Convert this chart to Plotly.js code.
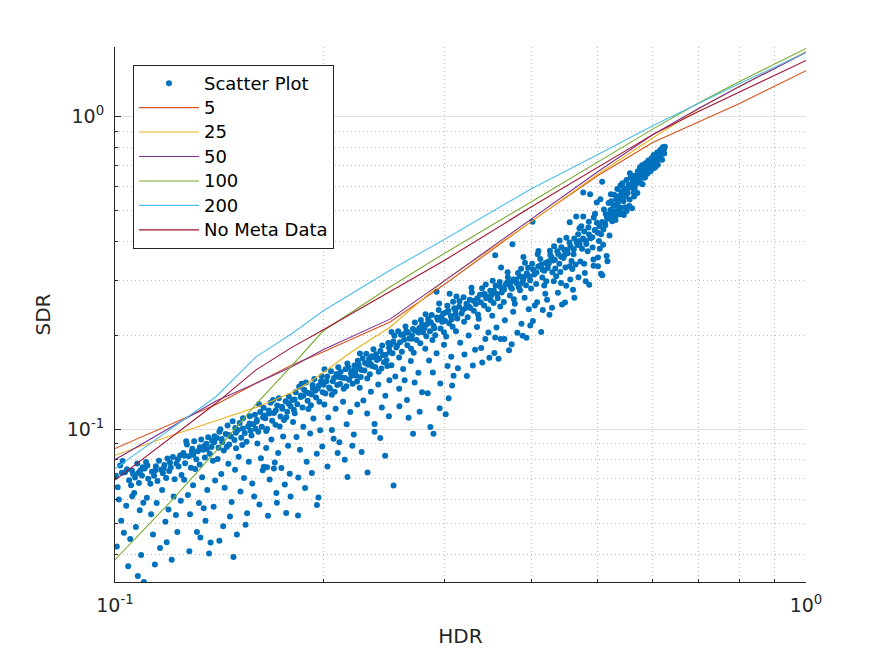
<!DOCTYPE html>
<html>
<head>
<meta charset="utf-8">
<script src="https://cdn.plot.ly/plotly-3.0.1.min.js"></script>
<style>html,body{margin:0;padding:0;background:#fff;}#chart{width:891px;height:656px;}</style>
</head>
<body>
<div id="chart"></div>
<script>
// ---- Data (HDR, SDR pairs) ----
var scatterPoints = [
[0.1003,0.0712],[0.1017,0.0768],[0.1009,0.0655],[0.1034,0.0731],[0.1026,0.0794],[0.1048,0.0689],[0.1041,0.0747],[0.1062,0.0722],[0.1055,0.0664],[0.1077,0.0779],[0.1069,0.0703],[0.1088,0.0741],[0.1083,0.0676],[0.1097,0.0758],[0.1094,0.0714],
[0.1013,0.0598],[0.1021,0.0512],[0.1038,0.0571],[0.1052,0.0447],[0.1059,0.0613],[0.1072,0.0489],[0.1086,0.0553],[0.1091,0.0398],[0.1006,0.0423],[0.1045,0.0366],[0.1066,0.0627],[0.1079,0.0341],[0.1030,0.0468],[0.1099,0.0584],
[0.1104,0.0751],[0.1117,0.0697],[0.1109,0.0788],[0.1131,0.0733],[0.1125,0.0672],[0.1146,0.0764],[0.1139,0.0712],[0.1158,0.0796],[0.1166,0.0745],[0.1152,0.0685],[0.1179,0.0771],[0.1173,0.0726],[0.1191,0.0809],[0.1186,0.0701],[0.1204,0.0757],[0.1213,0.0818],[0.1198,0.0738],[0.1227,0.0779],[0.1220,0.0694],[0.1242,0.0827],[0.1236,0.0762],[0.1248,0.0716],
[0.1112,0.0606],[0.1128,0.0537],[0.1135,0.0462],[0.1149,0.0583],[0.1162,0.0419],[0.1170,0.0641],[0.1183,0.0508],[0.1195,0.0556],[0.1208,0.0384],[0.1216,0.0612],[0.1231,0.0471],[0.1245,0.0593],[0.1101,0.0326],[0.1142,0.0371],[0.1188,0.0437],[0.1225,0.0534],
[0.1256,0.0842],[0.1263,0.0781],[0.1271,0.0897],[0.1279,0.0823],[0.1288,0.0756],[0.1294,0.0869],[0.1302,0.0918],[0.1311,0.0805],[0.1318,0.0853],[0.1326,0.0774],[0.1333,0.0931],[0.1341,0.0862],[0.1349,0.0815],[0.1356,0.0902],[0.1364,0.0946],[0.1371,0.0838],[0.1379,0.0880],[0.1386,0.0796],[0.1393,0.0953],[0.1268,0.0918],[0.1306,0.0749],[0.1345,0.0885],[0.1382,0.0921],[0.1298,0.0831],
[0.1259,0.0692],[0.1275,0.0618],[0.1284,0.0537],[0.1297,0.0664],[0.1314,0.0471],[0.1323,0.0583],[0.1337,0.0705],[0.1352,0.0512],[0.1360,0.0641],[0.1375,0.0436],[0.1389,0.0567],[0.1396,0.0688],[0.1281,0.0409],[0.1329,0.0452],[0.1368,0.0402],[0.1344,0.0561],
[0.1404,0.0941],[0.1412,0.0876],[0.1421,0.1003],[0.1430,0.0912],[0.1437,0.0858],[0.1446,0.0968],[0.1455,0.1032],[0.1463,0.0897],[0.1471,0.0951],[0.1480,0.1064],[0.1489,0.0927],[0.1497,0.0872],[0.1506,0.0998],[0.1515,0.1051],[0.1523,0.0943],[0.1532,0.1087],[0.1541,0.0976],[0.1550,0.0915],[0.1558,0.1024],[0.1567,0.1103],[0.1576,0.0958],[0.1585,0.1041],[0.1594,0.1116],[0.1416,0.0985],[0.1452,0.0882],[0.1493,0.1012],[0.1528,0.0893],[0.1571,0.0992],[0.1598,0.1007],
[0.1408,0.0806],[0.1425,0.0721],[0.1441,0.0652],[0.1459,0.0778],[0.1475,0.0587],[0.1492,0.0745],[0.1510,0.0819],[0.1519,0.0634],[0.1537,0.0701],[0.1553,0.0541],[0.1562,0.0789],[0.1580,0.0673],[0.1590,0.0612],[0.1434,0.0491],[0.1467,0.0528],[0.1501,0.0462],[0.1545,0.0497],[0.1484,0.0392],[0.1416,0.0442],
[0.1603,0.1062],[0.1612,0.0984],[0.1622,0.1138],[0.1631,0.1021],[0.1641,0.1175],[0.1650,0.1087],[0.1660,0.1004],[0.1669,0.1152],[0.1679,0.1219],[0.1688,0.1068],[0.1698,0.1131],[0.1707,0.1037],[0.1717,0.1195],[0.1726,0.1259],[0.1736,0.1102],[0.1746,0.1167],[0.1756,0.1073],[0.1766,0.1232],[0.1775,0.1141],[0.1785,0.1276],[0.1795,0.1189],[0.1616,0.1206],[0.1655,0.0991],[0.1693,0.1243],[0.1731,0.1024],[0.1770,0.1096],[0.1645,0.1110],
[0.1607,0.0903],[0.1626,0.0811],[0.1636,0.0742],[0.1655,0.0874],[0.1674,0.0693],[0.1684,0.0931],[0.1703,0.0786],[0.1712,0.0628],[0.1722,0.0842],[0.1741,0.0754],[0.1751,0.0951],[0.1761,0.0668],[0.1780,0.0889],[0.1790,0.0723],[0.1618,0.0577],[0.1665,0.0531],[0.1715,0.0584],[0.1769,0.0542],[0.1795,0.0612],[0.1642,0.0761],[0.1698,0.0752],[0.1660,0.0758],
[0.1805,0.1243],[0.1815,0.1157],[0.1826,0.1318],[0.1836,0.1206],[0.1847,0.1372],[0.1857,0.1271],[0.1868,0.1178],[0.1878,0.1341],[0.1889,0.1414],[0.1900,0.1236],[0.1910,0.1308],[0.1921,0.1197],[0.1932,0.1388],[0.1943,0.1452],[0.1954,0.1267],[0.1965,0.1352],[0.1976,0.1229],[0.1987,0.1428],[0.1998,0.1316],[0.1820,0.1129],[0.1862,0.1402],[0.1905,0.1165],[0.1948,0.1331],[0.1992,0.1481],[0.1873,0.1284],[0.1926,0.1295],
[0.1810,0.1058],[0.1831,0.0947],[0.1852,0.0862],[0.1873,0.1021],[0.1894,0.0789],[0.1916,0.0973],[0.1937,0.1085],[0.1959,0.0838],[0.1981,0.0996],[0.1842,0.0703],[0.1884,0.0651],[0.1927,0.0727],[0.1970,0.0607],[0.1960,0.0574],[0.1995,0.0884],[0.1840,0.0532],
[0.2004,0.1392],[0.2016,0.1305],[0.2029,0.1479],[0.2041,0.1364],[0.2054,0.1538],[0.2066,0.1427],[0.2079,0.1321],[0.2092,0.1505],[0.2104,0.1582],[0.2117,0.1398],[0.2130,0.1466],[0.2143,0.1351],[0.2156,0.1561],[0.2169,0.1627],[0.2182,0.1443],[0.2195,0.1519],[0.2208,0.1402],[0.2221,0.1603],[0.2234,0.1487],[0.2246,0.1659],[0.2010,0.1559],[0.2060,0.1293],[0.2110,0.1472],[0.2162,0.1376],[0.2214,0.1543],[0.2240,0.1424],
[0.2009,0.1203],[0.2035,0.1094],[0.2060,0.0998],[0.2086,0.1167],[0.2112,0.0912],[0.2138,0.1228],[0.2164,0.1041],[0.2190,0.1139],[0.2216,0.0965],[0.2242,0.1204],[0.2030,0.0763],[0.2100,0.0842],[0.2150,0.0801],[0.2170,0.0706],[0.2205,0.0889],[0.2072,0.0935],
[0.2255,0.1581],[0.2268,0.1473],[0.2282,0.1687],[0.2296,0.1545],[0.2310,0.1749],[0.2324,0.1612],[0.2338,0.1503],[0.2352,0.1716],[0.2366,0.1807],[0.2380,0.1587],[0.2394,0.1668],[0.2408,0.1531],[0.2422,0.1783],[0.2436,0.1859],[0.2450,0.1642],[0.2464,0.1735],[0.2478,0.1597],[0.2492,0.1826],[0.2262,0.1752],[0.2318,0.1456],[0.2374,0.1702],[0.2430,0.1568],[0.2486,0.1893],[0.2345,0.1620],
[0.2260,0.1361],[0.2288,0.1240],[0.2317,0.1127],[0.2346,0.1322],[0.2375,0.1043],[0.2404,0.1395],[0.2433,0.1178],[0.2462,0.1284],[0.2491,0.1104],[0.2320,0.0730],[0.2375,0.0985],[0.2460,0.0826],[0.2420,0.0941],[0.2275,0.0848],[0.2495,0.1439],
[0.2506,0.1872],[0.2521,0.1754],[0.2537,0.1996],[0.2553,0.1829],[0.2569,0.2061],[0.2585,0.1903],[0.2601,0.1774],[0.2617,0.2018],[0.2633,0.2135],[0.2649,0.1862],[0.2666,0.1957],[0.2682,0.1812],[0.2699,0.2096],[0.2716,0.2201],[0.2732,0.1934],[0.2749,0.2043],[0.2766,0.1887],[0.2783,0.2163],[0.2513,0.2052],[0.2577,0.1702],[0.2641,0.2063],[0.2706,0.1761],[0.2771,0.2242],[0.2690,0.1998],
[0.2512,0.1607],[0.2545,0.1478],[0.2578,0.1352],[0.2612,0.1562],[0.2646,0.1244],[0.2680,0.1658],[0.2714,0.1416],[0.2748,0.1521],[0.2782,0.1318],[0.2530,0.0663],[0.2580,0.1187],[0.2660,0.1092],[0.2700,0.0970],[0.2760,0.1141],[0.2625,0.1439],
[0.2806,0.2112],[0.2822,0.1987],[0.2839,0.2258],[0.2856,0.2062],[0.2873,0.2325],[0.2890,0.2147],[0.2907,0.2003],[0.2924,0.2284],[0.2941,0.2410],[0.2958,0.2103],[0.2975,0.2212],[0.2993,0.2048],[0.3010,0.2368],[0.3027,0.2487],[0.3045,0.2186],[0.3062,0.2309],[0.3080,0.2131],[0.3097,0.2441],[0.2815,0.2339],[0.2880,0.1935],[0.2945,0.2529],[0.3015,0.1986],[0.3085,0.2563],[0.2920,0.2760],[0.3050,0.2720],[0.2985,0.2345],
[0.2812,0.1812],[0.2848,0.1663],[0.2884,0.1523],[0.2920,0.1754],[0.2956,0.1405],[0.2993,0.1868],[0.3029,0.1597],[0.3066,0.1709],[0.3090,0.1487],[0.2860,0.1020],[0.2890,0.0970],[0.3010,0.1120],[0.2950,0.1170],[0.2835,0.1307],[0.3040,0.1260],[0.3075,0.1385],
[0.3108,0.2402],[0.3129,0.2266],[0.3151,0.2572],[0.3173,0.2351],[0.3195,0.2648],[0.3217,0.2449],[0.3239,0.2285],[0.3261,0.2601],[0.3284,0.2745],[0.3306,0.2398],[0.3329,0.2521],[0.3352,0.2334],[0.3375,0.2697],[0.3398,0.2832],[0.3421,0.2491],[0.3445,0.2629],[0.3468,0.2427],[0.3492,0.2781],[0.3120,0.2665],[0.3200,0.2213],[0.3280,0.2843],[0.3360,0.2260],[0.3440,0.2910],[0.3250,0.2478],[0.3410,0.2702],
[0.3115,0.2063],[0.3159,0.1894],[0.3204,0.1739],[0.3249,0.1998],[0.3295,0.1603],[0.3341,0.2128],[0.3388,0.1822],[0.3435,0.1947],[0.3482,0.1697],[0.3135,0.1571],[0.3230,0.1485],[0.3320,0.1800],[0.3400,0.1640],[0.3470,0.2045],
[0.3508,0.2693],[0.3531,0.2537],[0.3555,0.2883],[0.3580,0.2628],[0.3604,0.2966],[0.3628,0.2741],[0.3653,0.2557],[0.3678,0.2908],[0.3703,0.3071],[0.3728,0.2683],[0.3753,0.2820],[0.3778,0.2611],[0.3804,0.3016],[0.3830,0.3168],[0.3856,0.2787],[0.3882,0.2941],[0.3520,0.2991],[0.3610,0.2473],[0.3700,0.3182],[0.3790,0.2525],[0.3870,0.3267],[0.3550,0.3610],[0.3760,0.3910],[0.3620,0.3300],[0.3740,0.2960],[0.3840,0.2850],
[0.3515,0.2312],[0.3565,0.2122],[0.3615,0.1947],[0.3666,0.2237],[0.3717,0.1795],[0.3769,0.2381],[0.3822,0.2039],[0.3875,0.2178],[0.3550,0.1970],[0.3660,0.1950],[0.3590,0.1686],[0.3750,0.1873],[0.3890,0.1995],[0.3540,0.1759],
[0.3908,0.3077],[0.3934,0.2896],[0.3961,0.3293],[0.3988,0.3002],[0.4015,0.3387],[0.4042,0.3131],[0.4069,0.2921],[0.4097,0.3322],[0.4125,0.3507],[0.4153,0.3064],[0.4181,0.3221],[0.4209,0.2982],[0.4238,0.3444],[0.4266,0.3617],[0.4295,0.3183],[0.3920,0.3415],[0.4000,0.2825],[0.4090,0.3633],[0.4180,0.2886],[0.4260,0.3731],[0.4020,0.4620],[0.3900,0.3560],[0.4100,0.3720],[0.4140,0.3364],[0.4230,0.3285],
[0.3915,0.2641],[0.3970,0.2424],[0.4025,0.2224],[0.4081,0.2555],[0.4138,0.2052],[0.4195,0.2720],[0.4253,0.2330],[0.3940,0.1965],[0.4050,0.2492],[0.4160,0.2410],[0.4220,0.2600],[0.4290,0.2450],[0.3990,0.2150],
[0.4308,0.3474],[0.4337,0.3271],[0.4366,0.3719],[0.4396,0.3390],[0.4426,0.3825],[0.4456,0.3536],[0.4486,0.3298],[0.4516,0.3752],[0.4547,0.3961],[0.4578,0.3460],[0.4609,0.3638],[0.4640,0.3368],[0.4671,0.3890],[0.4320,0.3856],[0.4410,0.3191],[0.4500,0.4103],[0.4590,0.3260],[0.4680,0.4213],[0.4550,0.4600],[0.4400,0.4020],[0.4650,0.4800],[0.4620,0.4085],[0.4470,0.3610],[0.4700,0.4400],
[0.4315,0.2982],[0.4375,0.2737],[0.4436,0.2511],[0.4497,0.2885],[0.4559,0.3021],[0.4622,0.2641],[0.4685,0.3070],[0.4480,0.2550],[0.4550,0.3330],[0.4600,0.2800],[0.4350,0.3090],[0.4420,0.2940],
[0.4708,0.4012],[0.4741,0.3786],[0.4775,0.4301],[0.4809,0.3923],[0.4843,0.4422],[0.4877,0.4091],[0.4911,0.3817],[0.4946,0.4339],[0.4981,0.4582],[0.5016,0.4004],[0.5051,0.4208],[0.5087,0.3897],[0.5123,0.4498],[0.5159,0.4723],[0.5195,0.4169],[0.4730,0.4466],[0.4830,0.3716],[0.4930,0.4765],[0.5030,0.3785],[0.5130,0.4890],[0.4760,0.5730],[0.4870,0.5650],[0.4980,0.5320],[0.5070,0.6200],[0.5040,0.5450],[0.4760,0.4800],[0.4850,0.4620],[0.5100,0.5050],[0.4950,0.4900],[0.5180,0.5300],[0.5090,0.4360],
[0.4715,0.3449],[0.4785,0.3166],[0.4856,0.2905],[0.4927,0.3337],[0.4999,0.3552],[0.5072,0.3112],[0.5146,0.3586],[0.4800,0.2980],[0.5050,0.3150],[0.5000,0.3330],[0.4775,0.3390],[0.5160,0.3450],[0.4925,0.3500],
[0.5208,0.4880],[0.5226,0.5370],[0.5243,0.4630],[0.5262,0.5190],[0.5279,0.5630],[0.5297,0.4990],[0.5315,0.5450],[0.5333,0.5880],[0.5351,0.5110],[0.5369,0.5580],[0.5388,0.4880],[0.5406,0.5760],[0.5424,0.6130],[0.5443,0.5370],[0.5462,0.5900],[0.5480,0.5560],[0.5499,0.6280],[0.5518,0.5690],[0.5537,0.6050],[0.5556,0.5440],[0.5575,0.6390],[0.5594,0.5960],[0.5614,0.6190],[0.5633,0.5740],[0.5653,0.6480],[0.5672,0.6080],[0.5692,0.6330],[0.5220,0.5650],[0.5300,0.4780],[0.5390,0.6030],[0.5470,0.5140],[0.5560,0.6600],[0.5640,0.5560],[0.5380,0.5130],[0.5600,0.5100],[0.5650,0.5900],
[0.5250,0.4700],[0.5350,0.4900],[0.5400,0.4950],[0.5500,0.5000],[0.5300,0.4680],[0.5450,0.4850],[0.5150,0.4800],[0.5700,0.5700],[0.5550,0.5180],
[0.5711,0.6690],[0.5731,0.6260],[0.5751,0.6890],[0.5771,0.6450],[0.5791,0.6990],[0.5811,0.6640],[0.5831,0.6380],[0.5852,0.7090],[0.5872,0.6780],[0.5893,0.6570],[0.5913,0.7250],[0.5934,0.6930],[0.5955,0.6690],[0.5976,0.7370],[0.5997,0.7060],[0.6018,0.6840],[0.6039,0.7510],[0.6060,0.7200],[0.6082,0.7410],[0.6103,0.7020],[0.6125,0.7660],[0.6146,0.7390],[0.6168,0.7570],[0.6190,0.7280],[0.6212,0.7810],[0.6234,0.7630],[0.6248,0.8010],[0.6205,0.7990],[0.6155,0.7820],[0.6090,0.7690],[0.6020,0.7540],[0.5950,0.7230],[0.5880,0.7110],[0.5800,0.6080],[0.5850,0.6400],[0.5950,0.6700],[0.6050,0.6900],[0.5760,0.6150],[0.6230,0.7900],[0.6180,0.7700],[0.6110,0.7300],[0.6060,0.7450],[0.5990,0.7300],[0.5920,0.6850],[0.5840,0.6850],[0.5770,0.6600],
[0.2023,0.1428],[0.2048,0.1351],[0.2075,0.1462],[0.2097,0.1390],[0.2121,0.1527],[0.2152,0.1463],[0.2177,0.1580],[0.2199,0.1488],[0.2228,0.1541],[0.2251,0.1619],[0.2273,0.1552],[0.2301,0.1634],[0.2332,0.1683],[0.2356,0.1598],[0.2387,0.1741],[0.2411,0.1688],[0.2443,0.1731],[0.2471,0.1665],[0.2498,0.1771],
[0.2528,0.1912],[0.2559,0.1853],[0.2593,0.2012],[0.2621,0.1939],[0.2655,0.2042],[0.2687,0.1951],[0.2719,0.2069],[0.2757,0.2113],[0.2791,0.2047],[0.2829,0.2174],[0.2864,0.2203],[0.2898,0.2109],[0.2932,0.2246],[0.2968,0.2296],[0.3003,0.2227],
[0.3036,0.2398],[0.3071,0.2254],[0.3112,0.2336],[0.3148,0.2471],[0.3187,0.2412],[0.3226,0.2527],[0.3268,0.2446],[0.3302,0.2583],[0.3345,0.2632],[0.3384,0.2551],[0.3427,0.2714],[0.3463,0.2658],[0.3497,0.2589],
[0.3534,0.2781],[0.3572,0.2712],[0.3613,0.2855],[0.3656,0.2806],[0.3692,0.2947],[0.3735,0.2862],[0.3772,0.3016],[0.3815,0.2933],[0.3858,0.3088],[0.3897,0.3012],[0.3944,0.3159],[0.3983,0.3087],[0.4027,0.3251],[0.4073,0.3178],[0.4112,0.3321],[0.4158,0.3242],[0.4197,0.3406],
[0.4243,0.3393],[0.4284,0.3554],[0.4331,0.3492],[0.4379,0.3641],[0.4422,0.3566],[0.4467,0.3758],[0.4519,0.3661],[0.4561,0.3854],[0.4612,0.3771],[0.4658,0.3962],[0.4704,0.3891],[0.4757,0.4078],[0.4802,0.4012],[0.4853,0.4203],[0.4906,0.4118],[0.4951,0.4342],[0.4997,0.4255],
[0.5023,0.4478],[0.5069,0.4612],[0.5118,0.4559],[0.5163,0.4762],[0.5212,0.5032],[0.5253,0.4921],[0.5298,0.5216],[0.5341,0.5297],[0.5384,0.5452],[0.5427,0.5598],[0.5468,0.5712],[0.5512,0.5821],[0.5553,0.5963],[0.5597,0.6072],[0.5641,0.6223],[0.5683,0.6351],
[0.5721,0.6548],[0.5762,0.6623],[0.5803,0.6812],[0.5846,0.6911],[0.5889,0.7027],[0.5928,0.7112],[0.5969,0.7226],[0.6011,0.7331],[0.6052,0.7392],[0.6093,0.7537],[0.6136,0.7612],[0.6178,0.7718],[0.6221,0.7842],
[0.1023,0.0728],[0.1058,0.0741],[0.1081,0.0727],[0.1114,0.0768],[0.1143,0.0741],[0.1176,0.0752],[0.1201,0.0785],[0.1233,0.0804],[0.1261,0.0826],[0.1292,0.0851],[0.1327,0.0879],[0.1358,0.0867],[0.1392,0.0912],[0.1427,0.0934],[0.1461,0.0962],[0.1496,0.0978],[0.1531,0.1008],[0.1566,0.1046],[0.1604,0.1073],[0.1638,0.1095],[0.1672,0.1127],[0.1709,0.1151],[0.1745,0.1183],[0.1783,0.1213],[0.1819,0.1248],[0.1858,0.1286],[0.1894,0.1315],[0.1934,0.1353],[0.1971,0.1382]
];

var curveX = [0.1, 0.12, 0.14, 0.16, 0.18, 0.2, 0.25, 0.3, 0.4, 0.5, 0.6, 0.7, 0.8, 1.0];
var curveX25 = [0.1, 0.12, 0.14, 0.16, 0.17, 0.18, 0.19, 0.2, 0.22, 0.25, 0.3, 0.4, 0.5, 0.6, 0.7, 0.8, 1.0];
var sdr5   = [0.0870, 0.1039, 0.1204, 0.1406, 0.1607, 0.1772, 0.2207, 0.2915, 0.4622, 0.6488, 0.8265, 0.9640, 1.100, 1.403];
var sdr25  = [0.0828, 0.0955, 0.1067, 0.1178, 0.1243, 0.1313, 0.1407, 0.1520, 0.1774, 0.2125, 0.2999, 0.4613, 0.6560, 0.8547, 1.060, 1.248, 1.617];
var sdr50  = [0.0802, 0.1015, 0.1234, 0.1408, 0.1586, 0.1801, 0.2255, 0.2993, 0.4717, 0.6681, 0.8757, 1.064, 1.246, 1.605];
var sdr100 = [0.0384, 0.0585, 0.0854, 0.1207, 0.1595, 0.2066, 0.2858, 0.3664, 0.5338, 0.7187, 0.9125, 1.108, 1.293, 1.653];
var sdr200 = [0.0751, 0.1000, 0.1274, 0.1708, 0.2021, 0.2393, 0.3232, 0.4058, 0.5876, 0.7568, 0.9360, 1.104, 1.274, 1.605];
var sdrNoMeta = [0.0690, 0.0938, 0.1214, 0.1553, 0.1829, 0.2082, 0.2767, 0.3478, 0.5143, 0.6895, 0.8764, 1.041, 1.199, 1.513];

var seriesNames = ['Scatter Plot', '5', '25', '50', '100', '200', 'No Meta Data'];
var xTickVals = [0.1, 1];
var xTickText = ['10<sup>-1</sup>', '10<sup>0</sup>'];
var yTickVals = [0.1, 1];
var yTickText = ['10<sup>-1</sup>', '10<sup>0</sup>'];
var xMinorVals = [0.2, 0.3, 0.4, 0.5, 0.6, 0.7, 0.8, 0.9];
var yMinorVals = [0.04, 0.05, 0.06, 0.07, 0.08, 0.09, 0.2, 0.3, 0.4, 0.5, 0.6, 0.7, 0.8, 0.9];

// ---- Traces ----
var font = 'DejaVu Sans, sans-serif';
var txt = '#262626';
var lineColors = ['#D95319', '#EDB120', '#7E2F8E', '#77AC30', '#4DBEEE', '#A2142F'];
var lineYs = [sdr5, sdr25, sdr50, sdr100, sdr200, sdrNoMeta];
var lineXs = [curveX, curveX25, curveX, curveX, curveX, curveX];

function legendLabel(s) { return '<span style="font-size:18px">' + s + '</span>'; }

var traces = [{
  type: 'scatter', mode: 'markers', name: legendLabel(seriesNames[0]),
  x: scatterPoints.map(function (p) { return p[0]; }),
  y: scatterPoints.map(function (p) { return p[1]; }),
  marker: { color: '#0072BD', size: 6, line: { width: 0 } }
}];
for (var i = 0; i < lineYs.length; i++) {
  traces.push({
    type: 'scatter', mode: 'lines', name: legendLabel(seriesNames[i + 1]),
    x: lineXs[i], y: lineYs[i],
    line: { color: lineColors[i], width: 1.1 }
  });
}

function axis(tv, tt, mv, range, title, standoff) {
  return {
    type: 'log', range: range, autorange: false, automargin: true,
    tickmode: 'array', tickvals: tv, ticktext: tt,
    ticks: 'inside', ticklen: 6, tickwidth: 1, tickcolor: txt,
    showline: true, linecolor: txt, linewidth: 1, mirror: false,
    showgrid: true, gridcolor: '#e0e0e0', gridwidth: 1, zeroline: false,
    minor: { tickmode: 'array', tickvals: mv, ticks: 'inside', ticklen: 3, tickcolor: txt,
             showgrid: true, gridcolor: '#bdbdbd', griddash: '1px,3px', gridwidth: 1 },
    tickfont: { family: font, size: 19, color: txt },
    ticklabelstandoff: 6,
    title: { text: title, standoff: standoff, font: { family: font, size: 20, color: txt } }
  };
}

var layout = {
  width: 891, height: 656,
  margin: { l: 115, r: 85, t: 47, b: 72 },
  paper_bgcolor: '#ffffff', plot_bgcolor: '#ffffff',
  font: { family: font, color: txt },
  xaxis: axis(xTickVals, xTickText, xMinorVals, [-1, 0], 'HDR', 14),
  yaxis: axis(yTickVals, yTickText, yMinorVals, [Math.log10(0.0326), Math.log10(1.67)], 'SDR', 10),
  showlegend: true,
  legend: {
    x: 0.026, y: 0.9665, xanchor: 'left', yanchor: 'top',
    bgcolor: '#ffffff', bordercolor: txt, borderwidth: 1,
    font: { family: font, size: 16.5, color: '#000000' },
    itemwidth: 60, tracegroupgap: 0
  }
};

Plotly.newPlot('chart', traces, layout, { displayModeBar: false, staticPlot: true });
</script>
</body>
</html>
